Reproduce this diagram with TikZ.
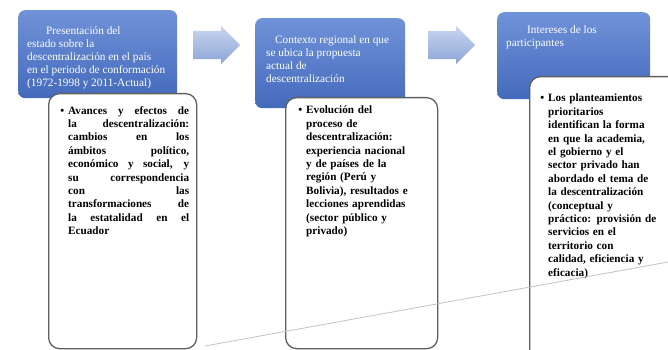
\documentclass[tikz,border=0pt]{standalone}
\usepackage{fontspec}
\setmainfont{Liberation Serif}
\usetikzlibrary{shapes.arrows}
\definecolor{hdrtop}{RGB}{112,146,216}
\definecolor{hdrbot}{RGB}{68,106,188}
\definecolor{arrtop}{RGB}{200,214,240}
\definecolor{arrbot}{RGB}{140,164,214}
\definecolor{bodyline}{RGB}{95,95,95}
\definecolor{diag}{RGB}{190,195,205}
\tikzset{
  hdr/.style={draw=none, rounded corners=7pt, top color=hdrtop, bottom color=hdrbot, anchor=north west, inner sep=0pt},
  body/.style={draw=bodyline, line width=1.3pt, rounded corners=11pt, fill=white, anchor=north west, inner sep=0pt},
  arr/.style={single arrow, single arrow head extend=5pt, inner xsep=0pt, inner ysep=14pt, minimum height=47pt, top color=arrtop, bottom color=arrbot, draw=none, anchor=west},
  htxt/.style={text=white, font=\fontsize{11.3}{13}\selectfont, align=left, anchor=north west, inner sep=0pt},
  btxt/.style={font=\fontsize{11.2}{13.4}\selectfont\bfseries, align=left, anchor=north west, inner sep=0pt},
}
\newcommand{\jline}[1]{\leavevmode\hbox to 121pt{\spaceskip=0.3em plus 1fil\relax #1}}
\begin{document}
\begin{tikzpicture}[x=1pt,y=-1pt]
\clip (0,0) rectangle (668,350);
\fill[white] (0,0) rectangle (668,350);
% headers
\node[hdr, minimum width=159pt, minimum height=88pt] (h1) at (18,10) {};
\node[hdr, minimum width=150pt, minimum height=90pt] (h2) at (255,18) {};
\node[hdr, minimum width=153pt, minimum height=87pt] (h3) at (497,12) {};
% header texts
\node[htxt] (ht1) at (27,26) {\hspace*{19pt}Presentación del\\estado sobre la\\descentralización en el país\\en el periodo de conformación\\(1972-1998 y 2011-Actual)};
\node[htxt] (ht2) at (266,35) {\hspace*{9pt}Contexto regional en que\\se ubica la propuesta\\actual de\\descentralización};
\node[htxt] (ht3) at (506,25) {\hspace*{21pt}Intereses de los\\participantes};
% arrows
\node[arr] (a1) at (193,45) {};
\node[arr] (a2) at (428,45) {};
% bodies
\node[body, minimum width=148pt, minimum height=255pt] (b1) at (48,93) {};
\node[body, minimum width=152pt, minimum height=251pt] (b2) at (285,97) {};
\node[body, minimum width=165pt, minimum height=290pt] (b3) at (529,76) {};
% body texts
\node[btxt, text width=121pt] (x1) at (68,106) {%
\llap{\textbullet\hspace{4pt}}\jline{Avances y efectos de}\\
\jline{la descentralización:}\\
\jline{cambios en los}\\
\jline{ámbitos político,}\\
\jline{económico y social, y}\\
\jline{su correspondencia}\\
\jline{con las}\\
\jline{transformaciones de}\\
\jline{la estatalidad en el}\\
Ecuador};
\node[btxt, text width=124pt] (x2) at (306,106) {%
\llap{\textbullet\hspace{4pt}}Evolución del\\
proceso de\\
descentralización:\\
experiencia nacional\\
y de países de la\\
región (Perú y\\
Bolivia), resultados e\\
lecciones aprendidas\\
(sector público y\\
privado)};
\node[btxt, text width=124pt] (x3) at (548,94) {%
\llap{\textbullet\hspace{4pt}}Los planteamientos\\
prioritarios\\
identifican la forma\\
en que la academia,\\
el gobierno y el\\
sector privado han\\
abordado el tema de\\
la descentralización\\
(conceptual y\\
práctico: provisión de\\
servicios en el\\
territorio con\\
calidad, eficiencia y\\
eficacia)};
% faint diagonal line
\coordinate (d1) at (205,346);
\coordinate (d2) at (668,262);
\draw[diag, line width=0.8pt] (d1) -- (d2);
\end{tikzpicture}
\end{document}
